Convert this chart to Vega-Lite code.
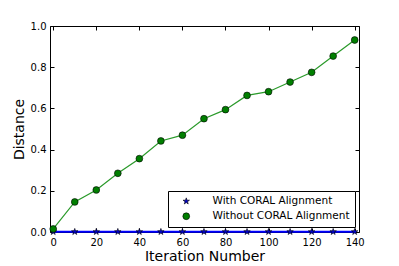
{
  "$schema": "https://vega.github.io/schema/vega-lite/v6.json",
  "width": 309,
  "height": 206,
  "autosize": {"type": "none"},
  "padding": {"left": 50, "top": 26, "right": 40, "bottom": 34},
  "background": "white",
  "config": {
    "font": "DejaVu Sans",
    "view": {"stroke": "black", "strokeWidth": 1},
    "axis": {
      "domain": false,
      "grid": false,
      "tickColor": "black",
      "tickSize": -4,
      "labelColor": "black",
      "labelFont": "DejaVu Sans",
      "labelFontSize": 10,
      "titleFont": "DejaVu Sans",
      "titleFontSize": 14,
      "titleFontWeight": "normal",
      "titleColor": "black"
    },
    "legend": {
      "labelFont": "DejaVu Sans",
      "labelFontSize": 11,
      "labelColor": "black"
    }
  },
  "data": {
    "values": [
      {"iter": 0, "dist": 0.001, "series": "With CORAL Alignment"},
      {"iter": 10, "dist": 0.001, "series": "With CORAL Alignment"},
      {"iter": 20, "dist": 0.001, "series": "With CORAL Alignment"},
      {"iter": 30, "dist": 0.001, "series": "With CORAL Alignment"},
      {"iter": 40, "dist": 0.001, "series": "With CORAL Alignment"},
      {"iter": 50, "dist": 0.001, "series": "With CORAL Alignment"},
      {"iter": 60, "dist": 0.001, "series": "With CORAL Alignment"},
      {"iter": 70, "dist": 0.001, "series": "With CORAL Alignment"},
      {"iter": 80, "dist": 0.001, "series": "With CORAL Alignment"},
      {"iter": 90, "dist": 0.001, "series": "With CORAL Alignment"},
      {"iter": 100, "dist": 0.001, "series": "With CORAL Alignment"},
      {"iter": 110, "dist": 0.001, "series": "With CORAL Alignment"},
      {"iter": 120, "dist": 0.001, "series": "With CORAL Alignment"},
      {"iter": 130, "dist": 0.001, "series": "With CORAL Alignment"},
      {"iter": 140, "dist": 0.001, "series": "With CORAL Alignment"},
      {"iter": 0, "dist": 0.015, "series": "Without CORAL Alignment"},
      {"iter": 10, "dist": 0.146, "series": "Without CORAL Alignment"},
      {"iter": 20, "dist": 0.204, "series": "Without CORAL Alignment"},
      {"iter": 30, "dist": 0.285, "series": "Without CORAL Alignment"},
      {"iter": 40, "dist": 0.356, "series": "Without CORAL Alignment"},
      {"iter": 50, "dist": 0.442, "series": "Without CORAL Alignment"},
      {"iter": 60, "dist": 0.47, "series": "Without CORAL Alignment"},
      {"iter": 70, "dist": 0.55, "series": "Without CORAL Alignment"},
      {"iter": 80, "dist": 0.594, "series": "Without CORAL Alignment"},
      {"iter": 90, "dist": 0.663, "series": "Without CORAL Alignment"},
      {"iter": 100, "dist": 0.681, "series": "Without CORAL Alignment"},
      {"iter": 110, "dist": 0.728, "series": "Without CORAL Alignment"},
      {"iter": 120, "dist": 0.775, "series": "Without CORAL Alignment"},
      {"iter": 130, "dist": 0.854, "series": "Without CORAL Alignment"},
      {"iter": 140, "dist": 0.932, "series": "Without CORAL Alignment"}
    ]
  },
  "layer": [
    {
      "transform": [{"filter": "datum.series === 'With CORAL Alignment'"}],
      "mark": {"type": "line", "color": "#0000ff", "strokeWidth": 2},
      "encoding": {
        "x": {
          "field": "iter", "type": "quantitative",
          "scale": {"domain": [-1.5, 142], "nice": false, "zero": false},
          "axis": {"orient": "bottom", "values": [0, 20, 40, 60, 80, 100, 120, 140], "title": "Iteration Number", "labelPadding": 9, "titlePadding": 2}
        },
        "y": {
          "field": "dist", "type": "quantitative",
          "scale": {"domain": [0, 1], "nice": false},
          "axis": {"orient": "left", "values": [0, 0.2, 0.4, 0.6, 0.8, 1.0], "format": ".1f", "title": "Distance", "labelPadding": 8, "titlePadding": 4}
        }
      }
    },
    {
      "transform": [{"filter": "datum.series === 'Without CORAL Alignment'"}],
      "mark": {"type": "line", "color": "#2a9a2a", "strokeWidth": 1.2},
      "encoding": {
        "x": {"field": "iter", "type": "quantitative", "axis": null},
        "y": {"field": "dist", "type": "quantitative", "axis": null}
      }
    },
    {
      "mark": {"type": "point", "filled": true, "stroke": "black", "strokeWidth": 0.6, "opacity": 1, "size": 46},
      "encoding": {
        "x": {"field": "iter", "type": "quantitative", "axis": null},
        "y": {"field": "dist", "type": "quantitative", "axis": null},
        "shape": {
          "field": "series", "type": "nominal",
          "scale": {"domain": ["With CORAL Alignment", "Without CORAL Alignment"], "range": ["M0,-1L0.225,-0.309L0.951,-0.309L0.363,0.118L0.588,0.809L0,0.382L-0.588,0.809L-0.363,0.118L-0.951,-0.309L-0.225,-0.309Z", "circle"]},
          "legend": {
            "orient": "none",
            "legendX": 118,
            "legendY": 165,
            "title": null,
            "strokeColor": "black",
            "fillColor": "white",
            "padding": 5,
            "rowPadding": 4,
            "symbolSize": 46,
            "symbolStrokeWidth": 0.6,
            "symbolOffset": 8,
            "labelOffset": 21,
            "labelFontSize": 10.5
          }
        },
        "fill": {
          "field": "series", "type": "nominal",
          "scale": {"domain": ["With CORAL Alignment", "Without CORAL Alignment"], "range": ["#0000cc", "#007f00"]}
        }
      }
    },
    {
      "mark": {"type": "point", "opacity": 0},
      "encoding": {
        "x": {
          "field": "iter", "type": "quantitative",
          "axis": {"orient": "top", "values": [0, 20, 40, 60, 80, 100, 120, 140], "labels": false, "title": null}
        },
        "y": {
          "field": "dist", "type": "quantitative",
          "axis": {"orient": "right", "values": [0, 0.2, 0.4, 0.6, 0.8, 1.0], "labels": false, "title": null}
        }
      }
    }
  ],
  "resolve": {"axis": {"x": "independent", "y": "independent"}}
}
